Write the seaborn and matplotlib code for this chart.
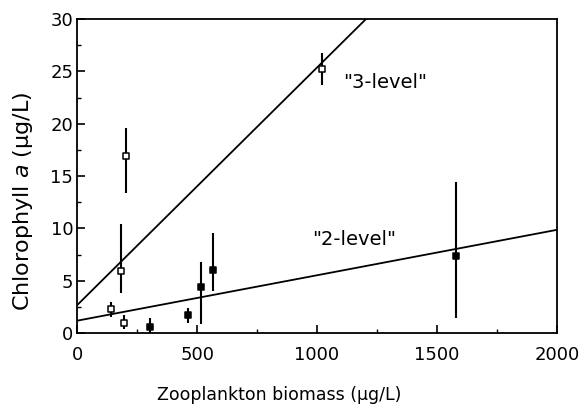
import numpy as np
import pandas as pd
import matplotlib
matplotlib.use("Agg")
import matplotlib.pyplot as plt
from matplotlib.ticker import MultipleLocator
import seaborn as sns

# open squares ("3-level" systems)
x3 = [139, 182, 203, 195, 1021]
y3 = [2.3, 5.9, 16.9, 1.0, 25.2]
lo3 = [1.5, 3.85, 13.4, 0.35, 23.7]
hi3 = [3.0, 10.4, 19.6, 1.7, 26.8]

# filled squares ("2-level" systems)
x2 = [303, 463, 517, 568, 1581]
y2 = [0.6, 1.7, 4.4, 6.0, 7.4]
lo2 = [0.0, 1.0, 0.9, 4.0, 1.4]
hi2 = [1.4, 2.4, 6.8, 9.6, 14.4]

# fitted lines: intercept, slope
fit3 = (2.68, 0.0227)
fit2 = (1.18, 0.00434)

sns.set_style("ticks", {"text.color": "black", "xtick.color": "black",
                        "ytick.color": "black", "axes.labelcolor": "black"})
plt.rcParams["font.family"] = ["DejaVu Sans"]

df = pd.DataFrame({
    "x": x3 + x2,
    "y": y3 + y2,
    "lo": lo3 + lo2,
    "hi": hi3 + hi2,
    "group": ["3-level"] * len(x3) + ["2-level"] * len(x2),
})

fig = plt.figure(figsize=(5.83, 4.08), dpi=100)
ax = fig.add_axes([0.1326, 0.1838, 0.8224, 0.7692])

# regression lines
xs = np.linspace(0, 2000, 200)
lines = pd.DataFrame({
    "x": np.concatenate([xs, xs]),
    "y": np.concatenate([fit3[0] + fit3[1] * xs, fit2[0] + fit2[1] * xs]),
    "group": ["3-level"] * len(xs) + ["2-level"] * len(xs),
})
sns.lineplot(data=lines, x="x", y="y", units="group", estimator=None,
             color="black", lw=1.3, ax=ax, legend=False)

# error bars
ax.vlines(df["x"], df["lo"], df["hi"], color="black", lw=1.5, zorder=3)

# markers
sns.scatterplot(data=df[df.group == "3-level"], x="x", y="y", marker="s", s=24,
                facecolor="white", edgecolor="black", linewidth=1.1, ax=ax, zorder=4)
sns.scatterplot(data=df[df.group == "2-level"], x="x", y="y", marker="s", s=24,
                color="black", edgecolor="black", linewidth=1.1, ax=ax, zorder=4)

ax.text(1108, 23.9, '"3-level"', fontsize=14, va="center", ha="left", color="black")
ax.text(978, 8.9, '"2-level"', fontsize=14, va="center", ha="left", color="black")

ax.set_xlim(0, 2000)
ax.set_ylim(0, 30)
ax.xaxis.set_major_locator(MultipleLocator(500))
ax.xaxis.set_minor_locator(MultipleLocator(250))
ax.yaxis.set_major_locator(MultipleLocator(5))
ax.yaxis.set_minor_locator(MultipleLocator(2.5))
ax.tick_params(which="major", direction="in", length=6, width=1.2, labelsize=13, pad=3,
               colors="black")
ax.tick_params(axis="x", which="major", pad=9)
ax.tick_params(which="minor", direction="in", length=3, width=1.0, colors="black")
for s in ax.spines.values():
    s.set_visible(True)
    s.set_linewidth(1.3)
    s.set_color("black")

ax.set_xlabel("Zooplankton biomass (μg/L)", fontsize=12.5, color="black")
ax.set_ylabel("Chlorophyll $\\mathit{a}$ (μg/L)", fontsize=16, color="black")
ax.xaxis.set_label_coords(0.422, -0.169)
ax.yaxis.set_label_coords(-0.088, 0.42)

fig.savefig("out.png", dpi=100)
